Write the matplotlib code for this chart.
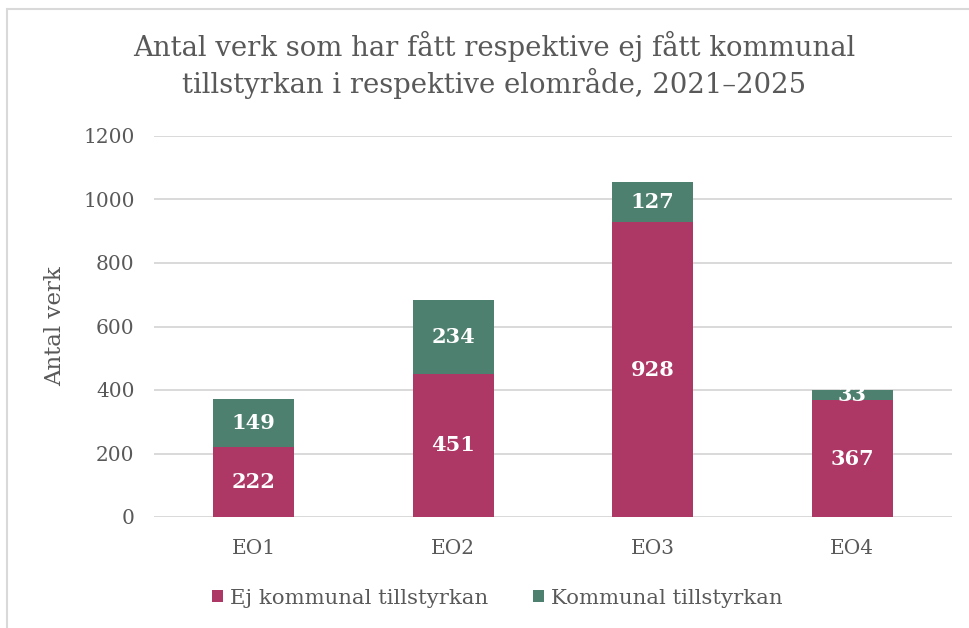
import matplotlib
matplotlib.use("Agg")
import matplotlib.pyplot as plt
from matplotlib.patches import Rectangle, Patch

categories = ["EO1", "EO2", "EO3", "EO4"]
ej_kommunal = [222, 451, 928, 367]
kommunal = [149, 234, 127, 33]
series_names = ["Ej kommunal tillstyrkan", "Kommunal tillstyrkan"]
yticks = [0, 200, 400, 600, 800, 1000, 1200]

c_ej = "#AD3765"
c_k = "#4E8070"
grey = "#595959"

plt.rcParams['font.family'] = ['DejaVu Serif']

fig = plt.figure(figsize=(9.7, 6.28), dpi=100)
ax = fig.add_axes([154/970, 1-517/628, 798/970, 381/628])

# frame
fig.patches.append(Rectangle((7/970, -0.1), 1.2, 1-9/628+0.1, transform=fig.transFigure,
                             fill=False, edgecolor="#D9D9D9", linewidth=1.5))

x = list(range(len(categories)))
w = 0.405
ax.bar(x, ej_kommunal, width=w, color=c_ej, zorder=3)
ax.bar(x, kommunal, width=w, bottom=ej_kommunal, color=c_k, zorder=3)

for xi, v in zip(x, ej_kommunal):
    ax.text(xi, v/2, str(v), ha="center", va="center", color="white",
            fontsize=15, fontweight="bold", zorder=4)
for xi, v, b in zip(x, kommunal, ej_kommunal):
    ax.text(xi, b + v/2, str(v), ha="center", va="center", color="white",
            fontsize=15, fontweight="bold", zorder=4)

ax.set_xlim(-0.5, len(categories)-0.5)
ax.set_ylim(0, 1200)
ax.set_yticks(yticks)
ax.set_yticklabels([str(t) for t in yticks])
ax.set_xticks(x)
ax.set_xticklabels(categories)
ax.grid(axis="y", color="#D9D9D9", linewidth=1.4, zorder=0)
for s in ax.spines.values():
    s.set_visible(False)
ax.tick_params(axis="both", length=0, colors=grey, labelsize=14.5)
ax.tick_params(axis="y", pad=14)
ax.tick_params(axis="x", pad=16)
ax.set_ylabel("Antal verk", fontsize=16.5, color=grey, labelpad=12)

fig.text(494/970, 1-65/628, "Antal verk som har fått respektive ej fått kommunal\ntillstyrkan i respektive elområde, 2021–2025",
         ha="center", va="center", fontsize=19.8, color=grey, linespacing=1.22)

handles = [Patch(facecolor=c_ej), Patch(facecolor=c_k)]
fig.legend(handles, series_names, loc="center", bbox_to_anchor=(497/970, 1-598/628),
           ncol=2, frameon=False, fontsize=15.3, labelcolor=grey,
           handlelength=0.55, handleheight=0.55, handletextpad=0.3, columnspacing=2.1)

fig.savefig("out.png", dpi=100)
